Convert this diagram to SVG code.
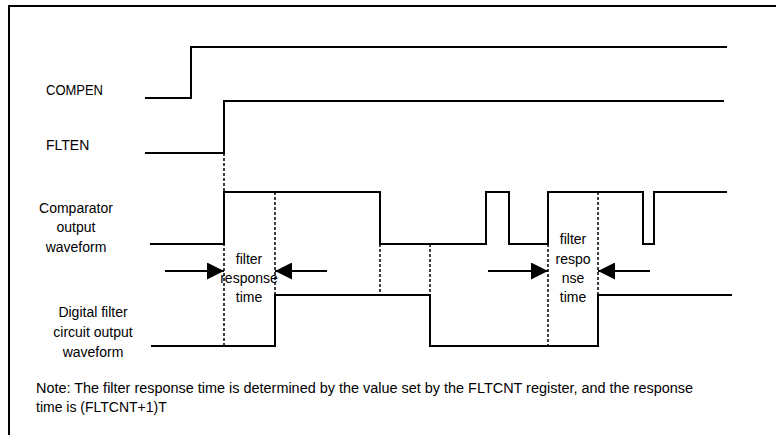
<svg xmlns="http://www.w3.org/2000/svg" width="776" height="435" viewBox="0 0 776 435">
<defs>
<style>
.w{fill:none;stroke:#000;stroke-width:2}
.d{fill:none;stroke:#000;stroke-width:1.5;stroke-dasharray:3,2}
.a{fill:none;stroke:#000;stroke-width:2}
text{font-family:"Liberation Sans",Arial,sans-serif;font-size:14px;fill:#000}
.c{text-anchor:middle}
.n{font-size:14px}
</style>
<marker id="ah" markerUnits="userSpaceOnUse" markerWidth="17" markerHeight="17" viewBox="0 0 16 16" refX="16" refY="8" orient="auto">
<path d="M0,0 L16,8 L0,16 Z" fill="#000"/>
</marker>
</defs>
<rect x="0" y="0" width="776" height="435" fill="#fff"/>
<path d="M9,435 L9,6 L776,6" fill="none" stroke="#000" stroke-width="2"/>

<g id="compen">
<text x="46" y="95" textLength="57" lengthAdjust="spacingAndGlyphs">COMPEN</text>
<path class="w" d="M145,98 H191 V47 H727"/>
</g>
<g id="flten">
<text x="46" y="150">FLTEN</text>
<path class="w" d="M145,153 H224 V101 H724"/>
</g>
<g id="comparator">
<text class="c" x="76" y="213">Comparator</text>
<text class="c" x="76" y="232">output</text>
<text class="c" x="76" y="252">waveform</text>
<path class="w" d="M150,244 H224 V192 H380 V244 H486 V192 H509 V244 H548 V192 H643 V244 H654 V192 H727"/>
</g>
<g id="filter-output">
<text class="c" x="93" y="317">Digital filter</text>
<text class="c" x="93" y="337">circuit output</text>
<text class="c" x="93" y="357">waveform</text>
<path class="w" d="M151,346 H275 V295 H430 V346 H598 V295 H732"/>
</g>
<g id="connectors">
<path class="d" d="M224,153 V346"/>
<path class="d" d="M275,192 V295"/>
<path class="d" d="M380,244 V295"/>
<path class="d" d="M430,244 V295"/>
<path class="d" d="M548,244 V346"/>
<path class="d" d="M598,192 V295"/>
<path class="a" d="M165,271 H224" marker-end="url(#ah)"/>
<path class="a" d="M327,271 H275" marker-end="url(#ah)"/>
<path class="a" d="M488,271 H548" marker-end="url(#ah)"/>
<path class="a" d="M650,271 H598" marker-end="url(#ah)"/>
</g>
<g id="label-left">
<text class="c" x="249" y="264">filter</text>
<text class="c" x="249" y="283">response</text>
<text class="c" x="249" y="302">time</text>
</g>
<g id="label-right">
<text class="c" x="573" y="244">filter</text>
<text class="c" x="573" y="264">respo</text>
<text class="c" x="573" y="283">nse</text>
<text class="c" x="573" y="302">time</text>
</g>
<g id="note">
<text class="n" x="36" y="393" textLength="657" lengthAdjust="spacingAndGlyphs">Note: The filter response time is determined by the value set by the FLTCNT register, and the response</text>
<text class="n" x="36" y="412">time is (FLTCNT+1)T</text>
</g>
</svg>
